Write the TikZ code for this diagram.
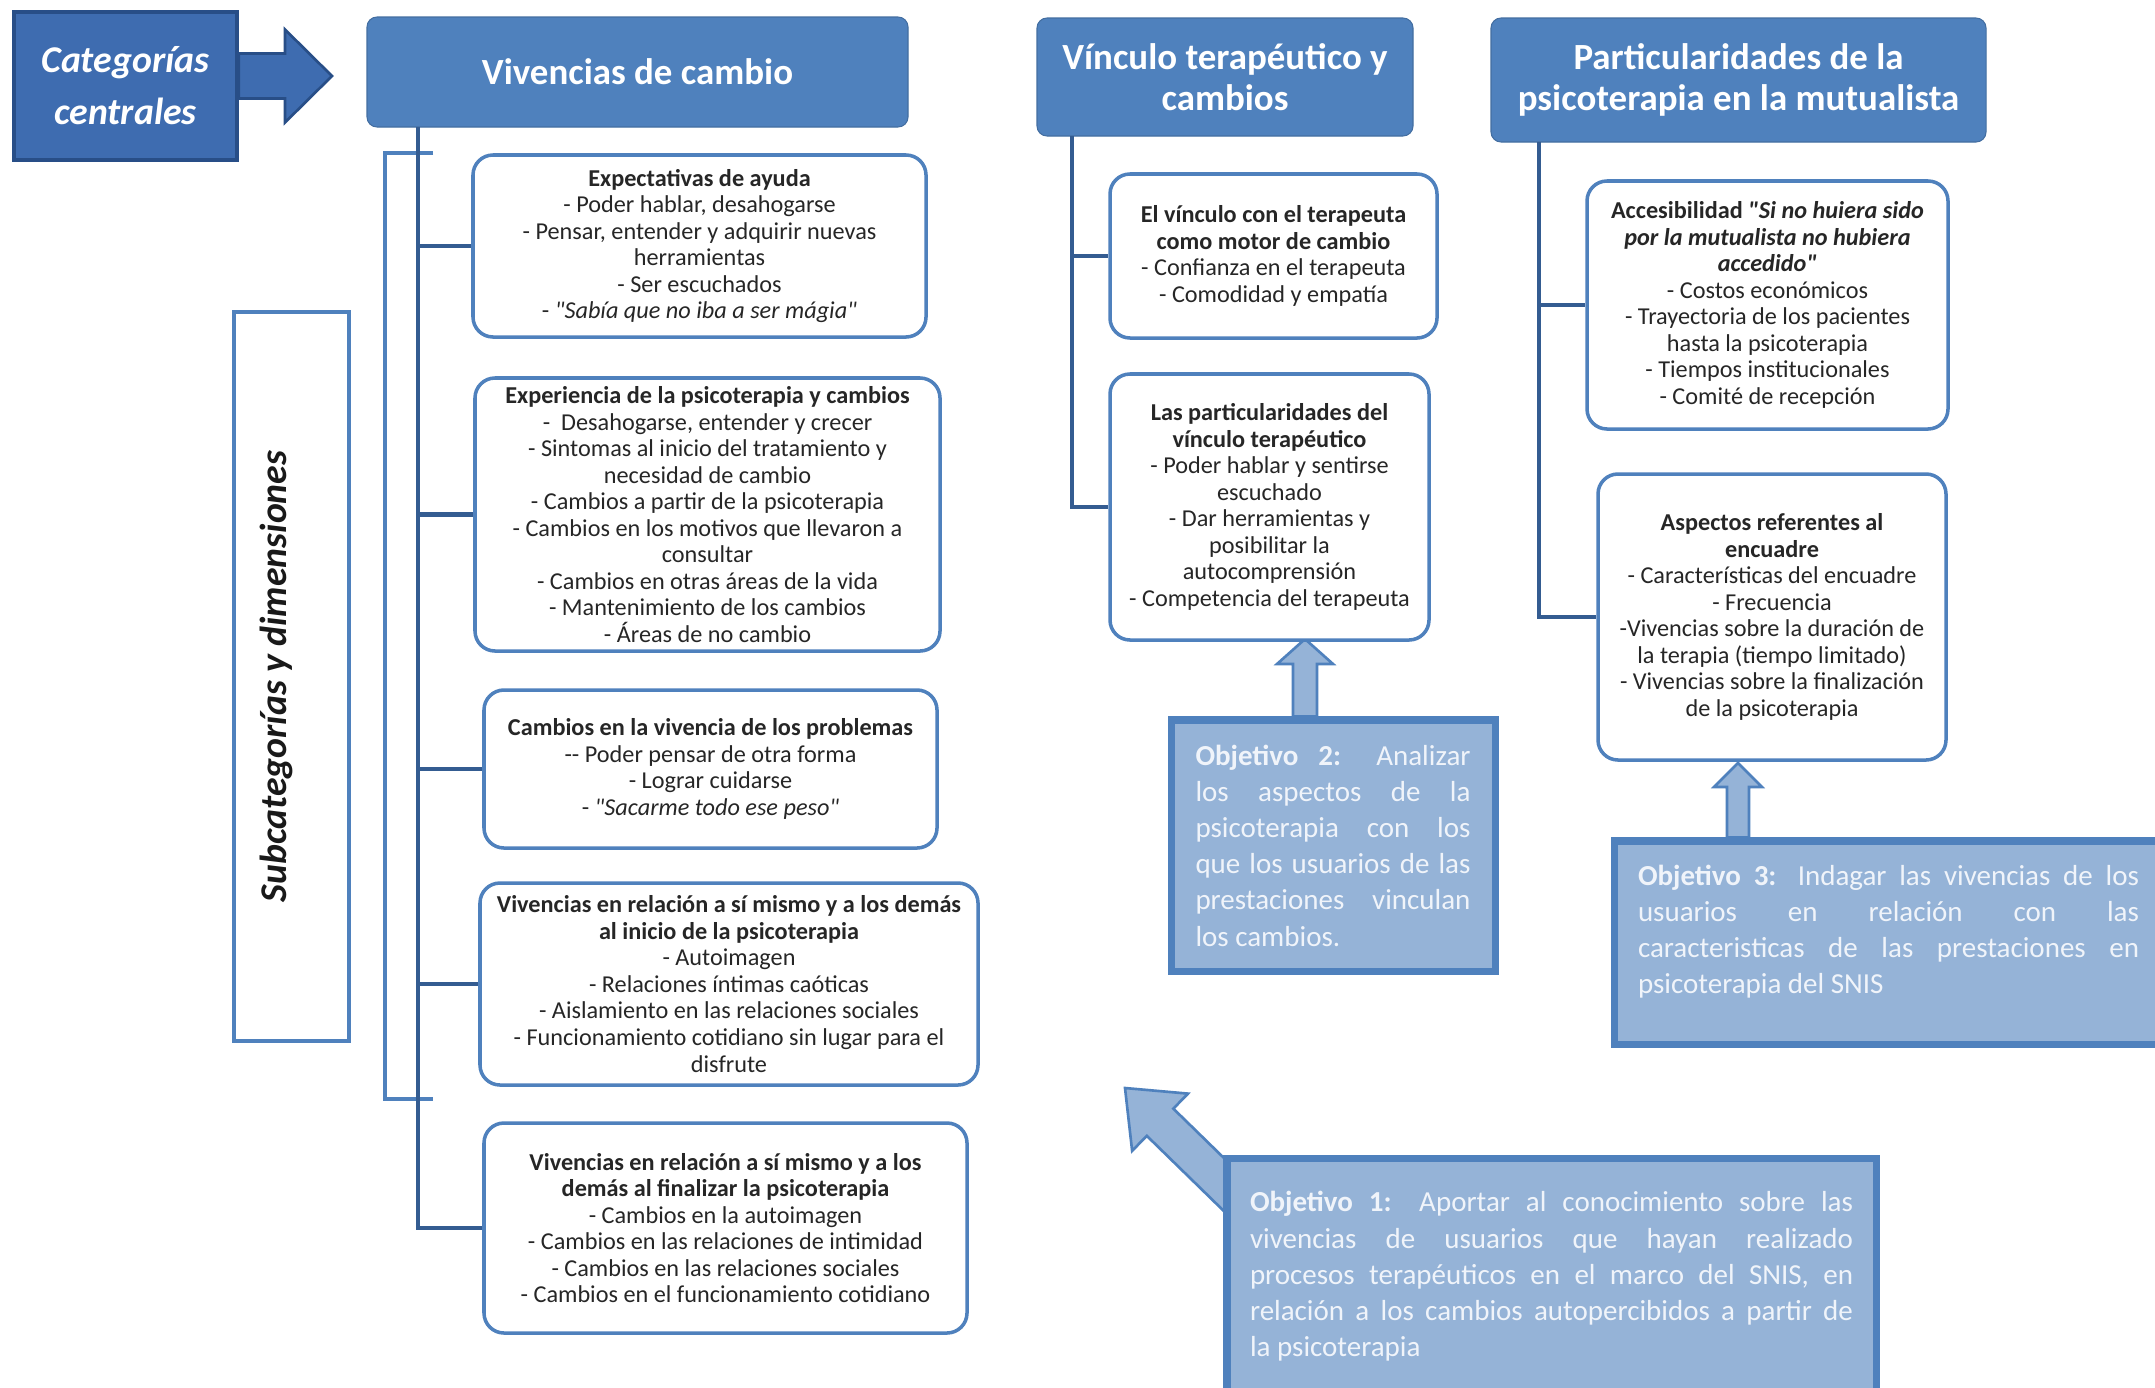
\documentclass[tikz,border=0pt]{standalone}
\usepackage{fontspec}
\setmainfont{Carlito}[Ligatures=TeXOff]
\usetikzlibrary{calc,backgrounds}

\definecolor{catblue}{RGB}{62,108,176}
\definecolor{catline}{RGB}{40,78,135}
\definecolor{hdrblue}{RGB}{79,129,189}
\definecolor{boxline}{RGB}{79,129,189}
\definecolor{trunkblue}{RGB}{52,92,145}
\definecolor{objfill}{RGB}{149,179,215}
\definecolor{objtext}{RGB}{240,244,250}

\tikzset{
  catbox/.style={draw=catline, line width=2pt, fill=catblue, text=white,
    font=\fontsize{21.5}{29.6}\selectfont\bfseries\itshape, align=center, inner sep=0pt},
  header/.style={draw=hdrblue!85!black, line width=0.6pt, fill=hdrblue, rounded corners=2mm,
    text=white, font=\fontsize{21}{23.4}\selectfont\bfseries, align=center, inner sep=0pt},
  subcatbox/.style={draw=boxline, line width=2.6pt, fill=white, inner sep=0pt},
  subcattext/.style={text=black!90, font=\fontsize{21.5}{23}\selectfont\bfseries\itshape, inner sep=0pt},
  subbox/.style={draw=boxline, line width=2pt, fill=white, rounded corners=4mm, align=center,
    font=\fontsize{13.8}{15.1}\selectfont, text=black!85, inner sep=0pt},
  objbox/.style={draw=boxline, line width=4pt, fill=objfill, text=objtext,
    font=\fontsize{16.5}{20.6}\selectfont, align=justify, inner sep=0pt},
  trunk/.style={draw=trunkblue, line width=2.5pt},
  bracket/.style={draw=boxline, line width=2.3pt},
  blockarr/.style={fill=objfill, draw=boxline, line width=1.5pt, line join=miter},
  catarr/.style={fill=catblue, draw=catline, line width=1.5pt, line join=miter},
}

% block arrow: [style]{from}{to}{half shaft}{half head}{head length}
\newcommand{\blockarrow}[6][blockarr]{%
  \coordinate (arrbase) at ($(#3)!#6!(#2)$);
  \path[#1] ($(#2)!#4!90:(#3)$) -- ($(arrbase)!#4!90:(#3)$)
    -- ($(arrbase)!#5!90:(#3)$) -- (#3)
    -- ($(arrbase)!#5!-90:(#3)$) -- ($(arrbase)!#4!-90:(#3)$)
    -- ($(#2)!#4!-90:(#3)$) -- cycle;
}

\begin{document}
\begin{tikzpicture}[x=0.2mm, y=-0.2mm]
\path[use as bounding box] (0,0) rectangle (2155,1387);

% central categories
\node[catbox, minimum width=44.6mm, minimum height=29.6mm] (cat) at (125.5,86) {Categorías\\centrales};
\node[header, minimum width=108.2mm, minimum height=22mm] (viv) at (637.5,72) {Vivencias de cambio};
\node[header, minimum width=75.2mm, minimum height=23.6mm] (vin) at (1225,77) {Vínculo terapéutico y\\cambios};
\node[header, minimum width=99mm, minimum height=24.8mm] (par) at (1738.5,80) {Particularidades de la\\psicoterapia en la mutualista};

\node[subcatbox, minimum width=23mm, minimum height=145.8mm] (subcat) at (291.5,676.5) {};
\node[subcattext, rotate=90] (subcatlbl) at ([xshift=-3mm]subcat.center) {Subcategorías y dimensiones};

% vivencias de cambio
\node[subbox, minimum width=90.6mm, minimum height=36.4mm] (b1) at (699.5,246) {%
  \textbf{Expectativas de ayuda}\\
  - Poder hablar, desahogarse\\
  - Pensar, entender y adquirir nuevas\\
  herramientas\\
  - Ser escuchados\\
  - \textit{"Sabía que no iba a ser mágia"}};
\node[subbox, minimum width=93mm, minimum height=54.6mm] (b2) at (707.5,514.5) {%
  \textbf{Experiencia de la psicoterapia y cambios}\\
  -\ \ Desahogarse, entender y crecer\\
  - Sintomas al inicio del tratamiento y\\
  necesidad de cambio\\
  - Cambios a partir de la psicoterapia\\
  - Cambios en los motivos que llevaron a\\
  consultar\\
  - Cambios en otras áreas de la vida\\
  - Mantenimiento de los cambios\\
  - Áreas de no cambio};
\node[subbox, minimum width=90.6mm, minimum height=31.6mm] (b3) at (710.5,769) {%
  \textbf{Cambios en la vivencia de los problemas}\\
  -{}- Poder pensar de otra forma\\
  - Lograr cuidarse\\
  - \textit{"Sacarme todo ese peso"}};
\node[subbox, minimum width=99.6mm, minimum height=40.4mm] (b4) at (729,984) {%
  \textbf{Vivencias en relación a sí mismo y a los demás}\\
  \textbf{al inicio de la psicoterapia}\\
  - Autoimagen\\
  - Relaciones íntimas caóticas\\
  - Aislamiento en las relaciones sociales\\
  - Funcionamiento cotidiano sin lugar para el\\
  disfrute};
\node[subbox, minimum width=96.6mm, minimum height=42mm] (b5) at (725.5,1228) {%
  \textbf{Vivencias en relación a sí mismo y a los}\\
  \textbf{demás al finalizar la psicoterapia}\\
  - Cambios en la autoimagen\\
  - Cambios en las relaciones de intimidad\\
  - Cambios en las relaciones sociales\\
  - Cambios en el funcionamiento cotidiano};

% vinculo terapeutico
\node[subbox, minimum width=65.4mm, minimum height=32.8mm] (va) at (1273.5,256) {%
  \textbf{El vínculo con el terapeuta}\\
  \textbf{como motor de cambio}\\
  - Confianza en el terapeuta\\
  - Comodidad y empatía};
\node[subbox, minimum width=63.8mm, minimum height=53.2mm] (vb) at (1269.5,507) {%
  \textbf{Las particularidades del}\\
  \textbf{vínculo terapéutico}\\
  - Poder hablar y sentirse\\
  escuchado\\
  - Dar herramientas y\\
  posibilitar la\\
  autocomprensión\\
  - Competencia del terapeuta};

% particularidades
\node[subbox, minimum width=72.2mm, minimum height=49.6mm] (rc) at (1767.5,305) {%
  \textbf{Accesibilidad \textit{"Si no huiera sido}}\\
  \textbf{\textit{por la mutualista no hubiera}}\\
  \textbf{\textit{accedido"}}\\
  - Costos económicos\\
  - Trayectoria de los pacientes\\
  hasta la psicoterapia\\
  - Tiempos institucionales\\
  - Comité de recepción};
\node[subbox, minimum width=69.6mm, minimum height=57.2mm] (rd) at (1772,617) {%
  \textbf{Aspectos referentes al}\\
  \textbf{encuadre}\\
  - Características del encuadre\\
  - Frecuencia\\
  -Vivencias sobre la duración de\\
  la terapia (tiempo limitado)\\
  - Vivencias sobre la finalización\\
  de la psicoterapia};

% objetivos
\node[objbox, text width=55mm, minimum width=64.8mm, minimum height=50.2mm] (obj2) at (1333,845.5) {%
  \textbf{Objetivo 2:} Analizar\linebreak los aspectos de la\linebreak psicoterapia con los\linebreak
  que los usuarios de las\linebreak prestaciones vinculan\linebreak los cambios.};
\node[objbox, text width=100.2mm, minimum width=109.8mm, minimum height=40.6mm] (obj3) at (1888.5,942.5) {%
  \textbf{Objetivo 3:} Indagar las vivencias de los\linebreak usuarios en relación con las\linebreak
  caracteristicas de las prestaciones en\linebreak psicoterapia del SNIS\par\vspace*{4.4mm}};
\node[objbox, text width=120.6mm, minimum width=129.8mm, minimum height=47.4mm] (obj1) at (1551.5,1276.5) {%
  \textbf{Objetivo 1:} Aportar al conocimiento sobre las\linebreak vivencias de usuarios que hayan realizado\linebreak
  procesos terapéuticos en el marco del SNIS, en\linebreak relación a los cambios autopercibidos a partir de\linebreak
  la psicoterapia};

% trees
\draw[bracket] (433,153) -| (385,1099) -- (433,1099);
\coordinate (t1) at (418,127);
\draw[trunk] (t1) |- (b5.west);
\foreach \b in {b1,b2,b3,b4}
  \draw[trunk] (\b.west -| t1) -- (\b.west);
\coordinate (t2) at (1072,136);
\draw[trunk] (t2) |- (vb.west);
\draw[trunk] (va.west -| t2) -- (va.west);
\coordinate (t3) at (1539,142);
\draw[trunk] (t3) |- (rd.west);
\draw[trunk] (rc.west -| t3) -- (rc.west);

% block arrows
\begin{scope}[on background layer]
  \fill[white] (0,0) rectangle (2155,1387);
  \coordinate (tipc) at (332,76);
  \coordinate (tailc) at (cat.east |- tipc);
  \blockarrow[catarr]{tailc}{tipc}{4.5mm}{9.3mm}{9.4mm}
  \coordinate (tip2) at (1305,639);
  \coordinate (tail2) at (tip2 |- obj2.north);
  \blockarrow{tail2}{tip2}{2.4mm}{5.6mm}{5mm}
  \coordinate (tip3) at (1738,763);
  \coordinate (tail3) at (tip3 |- obj3.north);
  \blockarrow{tail3}{tip3}{2.2mm}{4.8mm}{4.8mm}
  \coordinate (tip1) at (1125,1088);
  \coordinate (tail1) at (1250,1210);
  \blockarrow{tail1}{tip1}{3.8mm}{8mm}{9.8mm}
\end{scope}
\end{tikzpicture}
\end{document}
